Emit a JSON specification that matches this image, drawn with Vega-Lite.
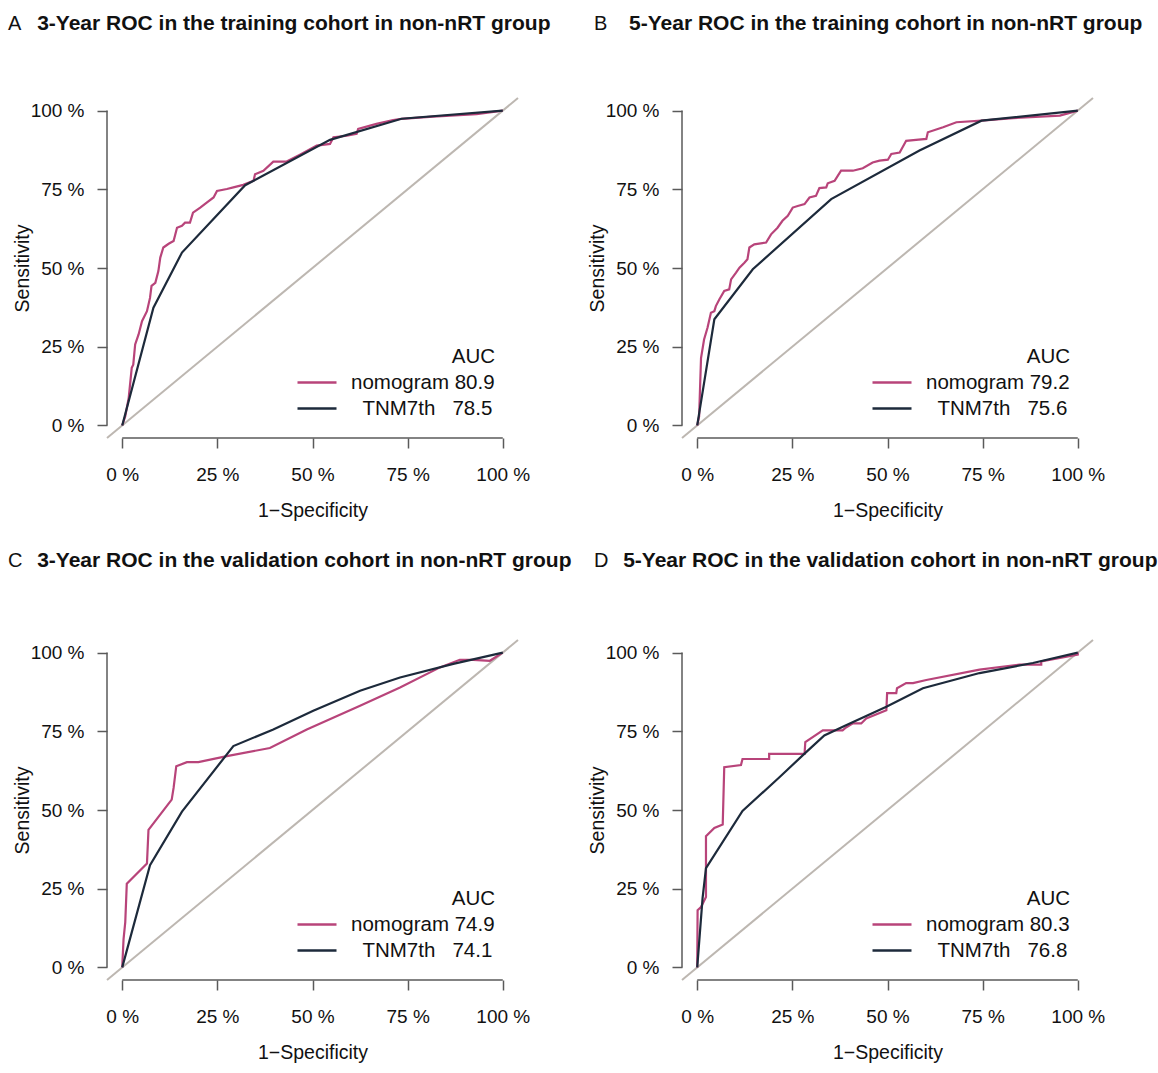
{
  "$schema": "https://vega.github.io/schema/vega-lite/v6.json",
  "background": "white",
  "padding": {"left": 8, "top": 13, "right": 5, "bottom": 5},
  "config": {"view": {"stroke": null}, "font": "Liberation Sans"},
  "datasets": {
    "rocA": [
      {"series":"nomogram","fpr":0,"tpr":0},{"series":"nomogram","fpr":0.8,"tpr":2.9},{"series":"nomogram","fpr":1.7,"tpr":8.7},{"series":"nomogram","fpr":2.5,"tpr":18.3},{"series":"nomogram","fpr":2.9,"tpr":19.3},{"series":"nomogram","fpr":3.4,"tpr":25.7},{"series":"nomogram","fpr":4.3,"tpr":28.9},{"series":"nomogram","fpr":5.2,"tpr":33.1},{"series":"nomogram","fpr":6.5,"tpr":36.3},{"series":"nomogram","fpr":7.3,"tpr":40.5},{"series":"nomogram","fpr":7.7,"tpr":44.3},{"series":"nomogram","fpr":8.7,"tpr":45.3},{"series":"nomogram","fpr":9.5,"tpr":49.0},{"series":"nomogram","fpr":10.0,"tpr":53.3},{"series":"nomogram","fpr":10.8,"tpr":56.5},{"series":"nomogram","fpr":12.2,"tpr":57.7},{"series":"nomogram","fpr":13.5,"tpr":58.6},{"series":"nomogram","fpr":14.4,"tpr":62.8},{"series":"nomogram","fpr":15.7,"tpr":63.4},{"series":"nomogram","fpr":16.5,"tpr":64.4},{"series":"nomogram","fpr":17.8,"tpr":64.4},{"series":"nomogram","fpr":18.6,"tpr":67.6},{"series":"nomogram","fpr":20.5,"tpr":69.2},{"series":"nomogram","fpr":22.2,"tpr":70.8},{"series":"nomogram","fpr":24.0,"tpr":72.4},{"series":"nomogram","fpr":24.9,"tpr":74.5},{"series":"nomogram","fpr":27.5,"tpr":75.1},{"series":"nomogram","fpr":29.2,"tpr":75.6},{"series":"nomogram","fpr":31.8,"tpr":76.4},{"series":"nomogram","fpr":34.5,"tpr":77.7},{"series":"nomogram","fpr":34.9,"tpr":79.8},{"series":"nomogram","fpr":37.1,"tpr":80.9},{"series":"nomogram","fpr":39.7,"tpr":83.8},{"series":"nomogram","fpr":43.2,"tpr":83.8},{"series":"nomogram","fpr":46.7,"tpr":86.0},{"series":"nomogram","fpr":51.1,"tpr":88.9},{"series":"nomogram","fpr":54.6,"tpr":89.4},{"series":"nomogram","fpr":55.5,"tpr":91.5},{"series":"nomogram","fpr":59.0,"tpr":92.0},{"series":"nomogram","fpr":61.6,"tpr":92.6},{"series":"nomogram","fpr":62.0,"tpr":94.2},{"series":"nomogram","fpr":66.8,"tpr":95.8},{"series":"nomogram","fpr":71.2,"tpr":97.0},{"series":"nomogram","fpr":73.4,"tpr":97.4},{"series":"nomogram","fpr":81.7,"tpr":98.1},{"series":"nomogram","fpr":93.1,"tpr":98.9},{"series":"nomogram","fpr":100,"tpr":100},
      {"series":"TNM7th","fpr":0,"tpr":0},{"series":"TNM7th","fpr":8.2,"tpr":37.4},{"series":"TNM7th","fpr":15.7,"tpr":54.9},{"series":"TNM7th","fpr":32.3,"tpr":76.3},{"series":"TNM7th","fpr":54.6,"tpr":90.7},{"series":"TNM7th","fpr":73.4,"tpr":97.4},{"series":"TNM7th","fpr":100,"tpr":100}
    ],
    "rocB": [
      {"series":"nomogram","fpr":0,"tpr":0},{"series":"nomogram","fpr":0.5,"tpr":2.9},{"series":"nomogram","fpr":1.0,"tpr":21.4},{"series":"nomogram","fpr":1.8,"tpr":27.3},{"series":"nomogram","fpr":2.7,"tpr":31.0},{"series":"nomogram","fpr":3.6,"tpr":35.8},{"series":"nomogram","fpr":4.5,"tpr":36.3},{"series":"nomogram","fpr":4.9,"tpr":37.9},{"series":"nomogram","fpr":5.8,"tpr":40.0},{"series":"nomogram","fpr":7.1,"tpr":42.7},{"series":"nomogram","fpr":8.4,"tpr":43.2},{"series":"nomogram","fpr":8.9,"tpr":46.4},{"series":"nomogram","fpr":10.2,"tpr":48.5},{"series":"nomogram","fpr":11.1,"tpr":50.1},{"series":"nomogram","fpr":12.4,"tpr":51.7},{"series":"nomogram","fpr":13.2,"tpr":52.8},{"series":"nomogram","fpr":13.7,"tpr":56.5},{"series":"nomogram","fpr":15.0,"tpr":57.5},{"series":"nomogram","fpr":18.1,"tpr":58.1},{"series":"nomogram","fpr":19.4,"tpr":60.7},{"series":"nomogram","fpr":21.1,"tpr":62.8},{"series":"nomogram","fpr":22.4,"tpr":65.0},{"series":"nomogram","fpr":23.8,"tpr":66.6},{"series":"nomogram","fpr":25.1,"tpr":69.2},{"series":"nomogram","fpr":26.4,"tpr":69.7},{"series":"nomogram","fpr":28.2,"tpr":70.3},{"series":"nomogram","fpr":29.5,"tpr":72.4},{"series":"nomogram","fpr":31.2,"tpr":72.9},{"series":"nomogram","fpr":32.1,"tpr":75.4},{"series":"nomogram","fpr":33.9,"tpr":75.6},{"series":"nomogram","fpr":34.3,"tpr":76.9},{"series":"nomogram","fpr":36.1,"tpr":77.7},{"series":"nomogram","fpr":37.8,"tpr":80.9},{"series":"nomogram","fpr":40.9,"tpr":80.9},{"series":"nomogram","fpr":43.5,"tpr":81.7},{"series":"nomogram","fpr":46.1,"tpr":83.5},{"series":"nomogram","fpr":47.9,"tpr":84.1},{"series":"nomogram","fpr":50.1,"tpr":84.4},{"series":"nomogram","fpr":51.0,"tpr":86.2},{"series":"nomogram","fpr":53.2,"tpr":86.7},{"series":"nomogram","fpr":54.9,"tpr":90.4},{"series":"nomogram","fpr":57.5,"tpr":90.7},{"series":"nomogram","fpr":60.2,"tpr":91.0},{"series":"nomogram","fpr":60.6,"tpr":93.1},{"series":"nomogram","fpr":64.6,"tpr":94.7},{"series":"nomogram","fpr":68.1,"tpr":96.3},{"series":"nomogram","fpr":74.7,"tpr":96.8},{"series":"nomogram","fpr":83.0,"tpr":97.6},{"series":"nomogram","fpr":95.3,"tpr":98.4},{"series":"nomogram","fpr":100,"tpr":100},
      {"series":"TNM7th","fpr":0,"tpr":0},{"series":"TNM7th","fpr":4.5,"tpr":33.7},{"series":"TNM7th","fpr":14.6,"tpr":49.6},{"series":"TNM7th","fpr":35.2,"tpr":71.9},{"series":"TNM7th","fpr":58.4,"tpr":87.3},{"series":"TNM7th","fpr":74.7,"tpr":96.8},{"series":"TNM7th","fpr":100,"tpr":100}
    ],
    "rocC": [
      {"series":"nomogram","fpr":0,"tpr":0},{"series":"nomogram","fpr":0.35,"tpr":9.0},{"series":"nomogram","fpr":0.8,"tpr":14.4},{"series":"nomogram","fpr":1.2,"tpr":26.6},{"series":"nomogram","fpr":6.5,"tpr":33.0},{"series":"nomogram","fpr":6.9,"tpr":43.7},{"series":"nomogram","fpr":13.0,"tpr":53.3},{"series":"nomogram","fpr":13.5,"tpr":57.0},{"series":"nomogram","fpr":14.2,"tpr":63.9},{"series":"nomogram","fpr":17.0,"tpr":65.2},{"series":"nomogram","fpr":20.0,"tpr":65.2},{"series":"nomogram","fpr":27.5,"tpr":67.1},{"series":"nomogram","fpr":38.8,"tpr":69.7},{"series":"nomogram","fpr":48.5,"tpr":75.6},{"series":"nomogram","fpr":62.5,"tpr":83.1},{"series":"nomogram","fpr":73.0,"tpr":88.9},{"series":"nomogram","fpr":83.5,"tpr":95.3},{"series":"nomogram","fpr":88.7,"tpr":97.7},{"series":"nomogram","fpr":92.2,"tpr":97.7},{"series":"nomogram","fpr":96.6,"tpr":97.4},{"series":"nomogram","fpr":100,"tpr":100},
      {"series":"TNM7th","fpr":0,"tpr":0},{"series":"TNM7th","fpr":7.3,"tpr":32.5},{"series":"TNM7th","fpr":15.7,"tpr":49.5},{"series":"TNM7th","fpr":29.2,"tpr":70.3},{"series":"TNM7th","fpr":39.7,"tpr":75.6},{"series":"TNM7th","fpr":50.2,"tpr":81.5},{"series":"TNM7th","fpr":62.5,"tpr":87.9},{"series":"TNM7th","fpr":73.0,"tpr":92.1},{"series":"TNM7th","fpr":87.0,"tpr":96.4},{"series":"TNM7th","fpr":100,"tpr":100}
    ],
    "rocD": [
      {"series":"nomogram","fpr":0,"tpr":0},{"series":"nomogram","fpr":0.1,"tpr":18.2},{"series":"nomogram","fpr":1.0,"tpr":19.2},{"series":"nomogram","fpr":2.3,"tpr":22.4},{"series":"nomogram","fpr":2.3,"tpr":41.7},{"series":"nomogram","fpr":4.5,"tpr":44.3},{"series":"nomogram","fpr":6.7,"tpr":45.4},{"series":"nomogram","fpr":7.1,"tpr":63.6},{"series":"nomogram","fpr":11.5,"tpr":64.3},{"series":"nomogram","fpr":11.9,"tpr":66.2},{"series":"nomogram","fpr":18.9,"tpr":66.2},{"series":"nomogram","fpr":18.9,"tpr":67.8},{"series":"nomogram","fpr":28.2,"tpr":67.8},{"series":"nomogram","fpr":28.4,"tpr":71.6},{"series":"nomogram","fpr":33.0,"tpr":75.3},{"series":"nomogram","fpr":38.2,"tpr":75.3},{"series":"nomogram","fpr":39.1,"tpr":76.2},{"series":"nomogram","fpr":40.9,"tpr":77.5},{"series":"nomogram","fpr":43.1,"tpr":77.5},{"series":"nomogram","fpr":44.4,"tpr":79.1},{"series":"nomogram","fpr":49.7,"tpr":81.7},{"series":"nomogram","fpr":49.9,"tpr":87.1},{"series":"nomogram","fpr":52.3,"tpr":87.1},{"series":"nomogram","fpr":52.5,"tpr":88.7},{"series":"nomogram","fpr":54.9,"tpr":90.3},{"series":"nomogram","fpr":56.7,"tpr":90.3},{"series":"nomogram","fpr":60.2,"tpr":91.3},{"series":"nomogram","fpr":74.2,"tpr":94.6},{"series":"nomogram","fpr":84.7,"tpr":96.2},{"series":"nomogram","fpr":90.4,"tpr":96.2},{"series":"nomogram","fpr":90.4,"tpr":97.2},{"series":"nomogram","fpr":100,"tpr":99.4},{"series":"nomogram","fpr":100,"tpr":100},
      {"series":"TNM7th","fpr":0,"tpr":0},{"series":"TNM7th","fpr":1.4,"tpr":21.9},{"series":"TNM7th","fpr":2.3,"tpr":31.5},{"series":"TNM7th","fpr":11.9,"tpr":49.7},{"series":"TNM7th","fpr":21.6,"tpr":60.4},{"series":"TNM7th","fpr":28.2,"tpr":67.9},{"series":"TNM7th","fpr":33.4,"tpr":73.7},{"series":"TNM7th","fpr":39.1,"tpr":76.9},{"series":"TNM7th","fpr":49.7,"tpr":82.8},{"series":"TNM7th","fpr":59.3,"tpr":88.7},{"series":"TNM7th","fpr":74.2,"tpr":93.5},{"series":"TNM7th","fpr":88.2,"tpr":96.7},{"series":"TNM7th","fpr":100,"tpr":100}
    ]
  },
  "columns": 2,
  "spacing": {"row": 202, "column": 164},
  "bounds": "flush",
  "resolve": {"scale": {"color": "independent", "x": "independent", "y": "independent"}, "legend": {"color": "independent"}},
  "concat": [
    {
      "width": 411, "height": 340,
      "title": {"text": "A", "subtitle": "\u200b\u00a0\u00a0\u00a0\u00a0\u00a03-Year ROC in the training cohort in non-nRT group", "anchor": "start", "frame": "group", "dx": -99, "offset": 62, "fontSize": 20, "fontWeight": "normal", "color": "#111111", "subtitleFontSize": 21, "subtitleFontWeight": "bold", "subtitleColor": "#111111", "subtitlePadding": -21},
      "layer": [
        {"data": {"values": [{}]}, "mark": {"type": "rule", "color": "#bdb7b1", "strokeWidth": 2}, "encoding": {"x": {"datum": -4, "type": "quantitative"}, "y": {"datum": -4, "type": "quantitative"}, "x2": {"datum": 104}, "y2": {"datum": 104}}},
        {"data": {"values": [{}]}, "mark": {"type": "rule", "color": "#5a5a5a", "strokeWidth": 1.5}, "encoding": {"x": {"datum": 0, "type": "quantitative"}, "x2": {"datum": 100}, "y": {"datum": -4, "type": "quantitative"}}},
        {"data": {"values": [{}]}, "mark": {"type": "rule", "color": "#5a5a5a", "strokeWidth": 1.5}, "encoding": {"x": {"datum": -4, "type": "quantitative"}, "y": {"datum": 0, "type": "quantitative"}, "y2": {"datum": 100}}},
        {"data": {"name": "rocA"}, "mark": {"type": "line", "strokeWidth": 2.2},
         "encoding": {
          "x": {"field": "fpr", "type": "quantitative", "scale": {"domain": [-4, 104], "nice": false, "zero": false}, "axis": {"values": [0, 25, 50, 75, 100], "labelExpr": "datum.value + ' %'", "domain": false, "grid": false, "tickColor": "#5a5a5a", "tickWidth": 1.5, "tickSize": 10, "labelFontSize": 19, "labelColor": "#111111", "labelPadding": 17, "labelFlush": false, "title": "1\u2212Specificity", "titleFontSize": 19.5, "titleFontWeight": "normal", "titleColor": "#111111", "titlePadding": 17}},
          "y": {"field": "tpr", "type": "quantitative", "scale": {"domain": [-4, 104], "nice": false, "zero": false}, "axis": {"values": [0, 25, 50, 75, 100], "labelExpr": "datum.value + ' %'", "domain": false, "grid": false, "tickColor": "#5a5a5a", "tickWidth": 1.5, "tickSize": 10, "labelFontSize": 19, "labelColor": "#111111", "labelPadding": 13, "labelFlush": false, "title": "Sensitivity", "titleFontSize": 19.5, "titleFontWeight": "normal", "titleColor": "#111111", "titlePadding": -2}},
          "color": {"field": "series", "type": "nominal", "scale": {"domain": ["nomogram", "TNM7th"], "range": ["#b8447a", "#1d2a3b"]}, "legend": {"title": "AUC", "orient": "none", "legendX": 189, "legendY": 249, "padding": 0, "titleAnchor": "end", "titleFontWeight": "normal", "titleFontSize": 20.5, "titleColor": "#111111", "titlePadding": 2, "labelFontSize": 20.5, "labelColor": "#111111", "symbolType": "stroke", "symbolSize": 1521, "symbolStrokeWidth": 2.5, "labelOffset": 13, "rowPadding": 0, "clipHeight": 26, "labelExpr": "datum.label == 'nomogram' ? 'nomogram 80.9' : '\u200b\u00a0\u00a0TNM7th\u00a0\u00a0\u00a078.5'"}},
          "order": {"value": null}
         }}
      ]
    },
    {
      "width": 411, "height": 340,
      "title": {"text": "B", "subtitle": "\u200b\u00a0\u00a0\u00a0\u00a0\u00a0\u00a05-Year ROC in the training cohort in non-nRT group", "anchor": "start", "frame": "group", "dx": -88, "offset": 62, "fontSize": 20, "fontWeight": "normal", "color": "#111111", "subtitleFontSize": 21, "subtitleFontWeight": "bold", "subtitleColor": "#111111", "subtitlePadding": -21},
      "layer": [
        {"data": {"values": [{}]}, "mark": {"type": "rule", "color": "#bdb7b1", "strokeWidth": 2}, "encoding": {"x": {"datum": -4, "type": "quantitative"}, "y": {"datum": -4, "type": "quantitative"}, "x2": {"datum": 104}, "y2": {"datum": 104}}},
        {"data": {"values": [{}]}, "mark": {"type": "rule", "color": "#5a5a5a", "strokeWidth": 1.5}, "encoding": {"x": {"datum": 0, "type": "quantitative"}, "x2": {"datum": 100}, "y": {"datum": -4, "type": "quantitative"}}},
        {"data": {"values": [{}]}, "mark": {"type": "rule", "color": "#5a5a5a", "strokeWidth": 1.5}, "encoding": {"x": {"datum": -4, "type": "quantitative"}, "y": {"datum": 0, "type": "quantitative"}, "y2": {"datum": 100}}},
        {"data": {"name": "rocB"}, "mark": {"type": "line", "strokeWidth": 2.2},
         "encoding": {
          "x": {"field": "fpr", "type": "quantitative", "scale": {"domain": [-4, 104], "nice": false, "zero": false}, "axis": {"values": [0, 25, 50, 75, 100], "labelExpr": "datum.value + ' %'", "domain": false, "grid": false, "tickColor": "#5a5a5a", "tickWidth": 1.5, "tickSize": 10, "labelFontSize": 19, "labelColor": "#111111", "labelPadding": 17, "labelFlush": false, "title": "1\u2212Specificity", "titleFontSize": 19.5, "titleFontWeight": "normal", "titleColor": "#111111", "titlePadding": 17}},
          "y": {"field": "tpr", "type": "quantitative", "scale": {"domain": [-4, 104], "nice": false, "zero": false}, "axis": {"values": [0, 25, 50, 75, 100], "labelExpr": "datum.value + ' %'", "domain": false, "grid": false, "tickColor": "#5a5a5a", "tickWidth": 1.5, "tickSize": 10, "labelFontSize": 19, "labelColor": "#111111", "labelPadding": 13, "labelFlush": false, "title": "Sensitivity", "titleFontSize": 19.5, "titleFontWeight": "normal", "titleColor": "#111111", "titlePadding": -2}},
          "color": {"field": "series", "type": "nominal", "scale": {"domain": ["nomogram", "TNM7th"], "range": ["#b8447a", "#1d2a3b"]}, "legend": {"title": "AUC", "orient": "none", "legendX": 189, "legendY": 249, "padding": 0, "titleAnchor": "end", "titleFontWeight": "normal", "titleFontSize": 20.5, "titleColor": "#111111", "titlePadding": 2, "labelFontSize": 20.5, "labelColor": "#111111", "symbolType": "stroke", "symbolSize": 1521, "symbolStrokeWidth": 2.5, "labelOffset": 13, "rowPadding": 0, "clipHeight": 26, "labelExpr": "datum.label == 'nomogram' ? 'nomogram 79.2' : '\u200b\u00a0\u00a0TNM7th\u00a0\u00a0\u00a075.6'"}},
          "order": {"value": null}
         }}
      ]
    },
    {
      "width": 411, "height": 340,
      "title": {"text": "C", "subtitle": "\u200b\u00a0\u00a0\u00a0\u00a0\u00a03-Year ROC in the validation cohort in non-nRT group", "anchor": "start", "frame": "group", "dx": -99, "offset": 67, "fontSize": 20, "fontWeight": "normal", "color": "#111111", "subtitleFontSize": 21, "subtitleFontWeight": "bold", "subtitleColor": "#111111", "subtitlePadding": -21},
      "layer": [
        {"data": {"values": [{}]}, "mark": {"type": "rule", "color": "#bdb7b1", "strokeWidth": 2}, "encoding": {"x": {"datum": -4, "type": "quantitative"}, "y": {"datum": -4, "type": "quantitative"}, "x2": {"datum": 104}, "y2": {"datum": 104}}},
        {"data": {"values": [{}]}, "mark": {"type": "rule", "color": "#5a5a5a", "strokeWidth": 1.5}, "encoding": {"x": {"datum": 0, "type": "quantitative"}, "x2": {"datum": 100}, "y": {"datum": -4, "type": "quantitative"}}},
        {"data": {"values": [{}]}, "mark": {"type": "rule", "color": "#5a5a5a", "strokeWidth": 1.5}, "encoding": {"x": {"datum": -4, "type": "quantitative"}, "y": {"datum": 0, "type": "quantitative"}, "y2": {"datum": 100}}},
        {"data": {"name": "rocC"}, "mark": {"type": "line", "strokeWidth": 2.2},
         "encoding": {
          "x": {"field": "fpr", "type": "quantitative", "scale": {"domain": [-4, 104], "nice": false, "zero": false}, "axis": {"values": [0, 25, 50, 75, 100], "labelExpr": "datum.value + ' %'", "domain": false, "grid": false, "tickColor": "#5a5a5a", "tickWidth": 1.5, "tickSize": 10, "labelFontSize": 19, "labelColor": "#111111", "labelPadding": 17, "labelFlush": false, "title": "1\u2212Specificity", "titleFontSize": 19.5, "titleFontWeight": "normal", "titleColor": "#111111", "titlePadding": 17}},
          "y": {"field": "tpr", "type": "quantitative", "scale": {"domain": [-4, 104], "nice": false, "zero": false}, "axis": {"values": [0, 25, 50, 75, 100], "labelExpr": "datum.value + ' %'", "domain": false, "grid": false, "tickColor": "#5a5a5a", "tickWidth": 1.5, "tickSize": 10, "labelFontSize": 19, "labelColor": "#111111", "labelPadding": 13, "labelFlush": false, "title": "Sensitivity", "titleFontSize": 19.5, "titleFontWeight": "normal", "titleColor": "#111111", "titlePadding": -2}},
          "color": {"field": "series", "type": "nominal", "scale": {"domain": ["nomogram", "TNM7th"], "range": ["#b8447a", "#1d2a3b"]}, "legend": {"title": "AUC", "orient": "none", "legendX": 189, "legendY": 249, "padding": 0, "titleAnchor": "end", "titleFontWeight": "normal", "titleFontSize": 20.5, "titleColor": "#111111", "titlePadding": 2, "labelFontSize": 20.5, "labelColor": "#111111", "symbolType": "stroke", "symbolSize": 1521, "symbolStrokeWidth": 2.5, "labelOffset": 13, "rowPadding": 0, "clipHeight": 26, "labelExpr": "datum.label == 'nomogram' ? 'nomogram 74.9' : '\u200b\u00a0\u00a0TNM7th\u00a0\u00a0\u00a074.1'"}},
          "order": {"value": null}
         }}
      ]
    },
    {
      "width": 411, "height": 340,
      "title": {"text": "D", "subtitle": "\u200b\u00a0\u00a0\u00a0\u00a0\u00a05-Year ROC in the validation cohort in non-nRT group", "anchor": "start", "frame": "group", "dx": -88, "offset": 67, "fontSize": 20, "fontWeight": "normal", "color": "#111111", "subtitleFontSize": 21, "subtitleFontWeight": "bold", "subtitleColor": "#111111", "subtitlePadding": -21},
      "layer": [
        {"data": {"values": [{}]}, "mark": {"type": "rule", "color": "#bdb7b1", "strokeWidth": 2}, "encoding": {"x": {"datum": -4, "type": "quantitative"}, "y": {"datum": -4, "type": "quantitative"}, "x2": {"datum": 104}, "y2": {"datum": 104}}},
        {"data": {"values": [{}]}, "mark": {"type": "rule", "color": "#5a5a5a", "strokeWidth": 1.5}, "encoding": {"x": {"datum": 0, "type": "quantitative"}, "x2": {"datum": 100}, "y": {"datum": -4, "type": "quantitative"}}},
        {"data": {"values": [{}]}, "mark": {"type": "rule", "color": "#5a5a5a", "strokeWidth": 1.5}, "encoding": {"x": {"datum": -4, "type": "quantitative"}, "y": {"datum": 0, "type": "quantitative"}, "y2": {"datum": 100}}},
        {"data": {"name": "rocD"}, "mark": {"type": "line", "strokeWidth": 2.2},
         "encoding": {
          "x": {"field": "fpr", "type": "quantitative", "scale": {"domain": [-4, 104], "nice": false, "zero": false}, "axis": {"values": [0, 25, 50, 75, 100], "labelExpr": "datum.value + ' %'", "domain": false, "grid": false, "tickColor": "#5a5a5a", "tickWidth": 1.5, "tickSize": 10, "labelFontSize": 19, "labelColor": "#111111", "labelPadding": 17, "labelFlush": false, "title": "1\u2212Specificity", "titleFontSize": 19.5, "titleFontWeight": "normal", "titleColor": "#111111", "titlePadding": 17}},
          "y": {"field": "tpr", "type": "quantitative", "scale": {"domain": [-4, 104], "nice": false, "zero": false}, "axis": {"values": [0, 25, 50, 75, 100], "labelExpr": "datum.value + ' %'", "domain": false, "grid": false, "tickColor": "#5a5a5a", "tickWidth": 1.5, "tickSize": 10, "labelFontSize": 19, "labelColor": "#111111", "labelPadding": 13, "labelFlush": false, "title": "Sensitivity", "titleFontSize": 19.5, "titleFontWeight": "normal", "titleColor": "#111111", "titlePadding": -2}},
          "color": {"field": "series", "type": "nominal", "scale": {"domain": ["nomogram", "TNM7th"], "range": ["#b8447a", "#1d2a3b"]}, "legend": {"title": "AUC", "orient": "none", "legendX": 189, "legendY": 249, "padding": 0, "titleAnchor": "end", "titleFontWeight": "normal", "titleFontSize": 20.5, "titleColor": "#111111", "titlePadding": 2, "labelFontSize": 20.5, "labelColor": "#111111", "symbolType": "stroke", "symbolSize": 1521, "symbolStrokeWidth": 2.5, "labelOffset": 13, "rowPadding": 0, "clipHeight": 26, "labelExpr": "datum.label == 'nomogram' ? 'nomogram 80.3' : '\u200b\u00a0\u00a0TNM7th\u00a0\u00a0\u00a076.8'"}},
          "order": {"value": null}
         }}
      ]
    }
  ]
}
